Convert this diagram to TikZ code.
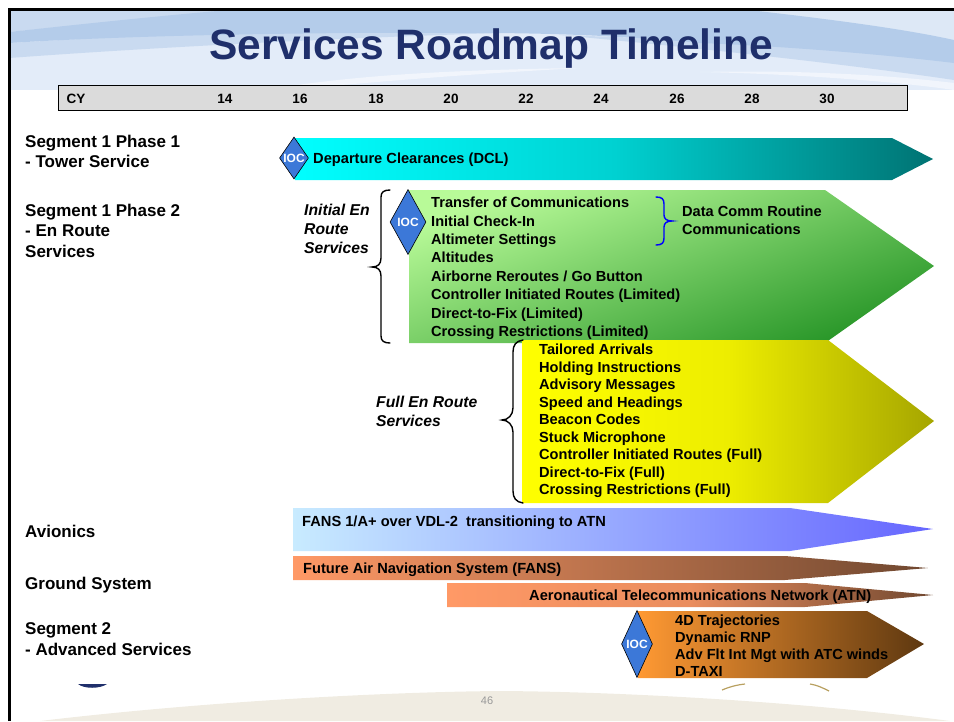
\documentclass[tikz,border=0pt]{standalone}
\usepackage{fontspec}
\setmainfont{Liberation Sans}
\newcommand{\pxfont}[1]{\fontsize{#1}{#1}\selectfont}
\newcommand{\listtext}[2]{\fontsize{#1}{#2}\selectfont}
\tikzset{
  x=1pt,y=-1pt,
  rowlabel/.style={anchor=north west,inner sep=0pt,align=left,font=\bfseries\listtext{17}{20.6},text=black},
  barlabel/.style={anchor=west,inner sep=0pt,font=\bfseries\pxfont{14.65},text=black},
  itemlist/.style={anchor=north west,inner sep=0pt,align=left,font=\bfseries\listtext{14.6}{#1},text=black},
  itemlist/.default=18.4,
  grouplabel/.style={anchor=north west,inner sep=0pt,align=left,font=\bfseries\itshape\listtext{15.7}{19},text=black},
  yearlabel/.style={anchor=center,inner sep=0pt,font=\bfseries\pxfont{13.5},text=black},
  iocmark/.style={diamond,aspect=#1,draw=black,line width=0.6pt,fill=iocblue,inner sep=0pt,text=white,font=\bfseries\pxfont{12}},
  bracket/.style={draw=black,line width=1.4pt,line cap=round},
}
\usetikzlibrary{shapes.geometric}
\definecolor{iocblue}{HTML}{3C78D8}
\definecolor{titleblue}{HTML}{1F2F6B}
\definecolor{waveLight}{HTML}{E3ECF9}
\definecolor{waveMid}{HTML}{C9DAF0}
\definecolor{waveDark}{HTML}{B4CCEA}
\definecolor{waveTop}{HTML}{DDE8F6}
\definecolor{waveStreak}{HTML}{F1F5FC}
\definecolor{sand}{HTML}{F0ECE2}
\definecolor{goldarc}{HTML}{B8A060}
\begin{document}
\begin{tikzpicture}
\useasboundingbox (0,0) rectangle (954,721);
% title background waves
\fill[waveLight] (9,9) -- (954,9) -- (954,90) -- (9,90) -- cycle;
\fill[waveTop] (740,9) -- (954,9) -- (954,40) -- cycle;
\fill[waveMid] (9,9) -- (240,9) -- (9,32) -- cycle;
\fill[waveMid] (9,43) -- (240,30) -- (500,33) .. controls (400,36) and (200,44) .. (9,58) -- cycle;
\fill[waveMid] (954,60) -- (954,80) .. controls (860,66) and (720,50) .. (560,35) -- (700,40) -- cycle;
\fill[waveDark] (9,32) .. controls (100,22) and (180,14) .. (240,9) -- (740,9) .. controls (820,18) and (900,28) .. (954,40) -- (954,63) .. controls (880,54) and (780,46) .. (700,43) .. controls (640,37) and (560,33) .. (480,33) .. controls (360,32) and (150,34) .. (9,43) -- cycle;
\fill[waveStreak] (290,86) .. controls (360,76) and (440,70) .. (580,68) .. controls (470,74) and (400,80) .. (330,86) -- cycle;
\fill[waveStreak] (700,72) .. controls (800,74) and (900,82) .. (954,90) -- (954,83) .. controls (880,74) and (790,70) .. (700,72) -- cycle;
% bottom band
\fill[sand] (40,721) .. controls (200,702) and (380,692) .. (500,691) .. controls (650,692) and (830,705) .. (950,721) -- cycle;
% seal fragments
\fill[titleblue] (78,684) .. controls (84,689) and (100,689) .. (107,684) -- cycle;
\draw[draw=goldarc,line width=1.2pt] (722,690) .. controls (729,687) and (736,685) .. (745,684);
\draw[draw=goldarc,line width=1.2pt] (810,684) .. controls (817,685) and (823,688) .. (829,691);
% frame
\draw[black,line width=3pt] (9,721) -- (9,9) -- (954,9);
% title
\node[anchor=center,inner sep=0pt,text=titleblue,font=\bfseries\pxfont{42.5}] (title) at (491,49) {Services Roadmap Timeline};
% year bar
\node[draw=black,line width=0.8pt,fill=gray!28,minimum width=849pt,minimum height=25pt,inner sep=0pt,anchor=north west] (yearbar) at (58,85) {};
\node[yearlabel] (cy) at (76,98.5) {CY};
\node[yearlabel] (y14) at (225,98.5) {14};
\node[yearlabel] (y16) at (300,98.5) {16};
\node[yearlabel] (y18) at (376,98.5) {18};
\node[yearlabel] (y20) at (451,98.5) {20};
\node[yearlabel] (y22) at (526,98.5) {22};
\node[yearlabel] (y24) at (601,98.5) {24};
\node[yearlabel] (y26) at (677,98.5) {26};
\node[yearlabel] (y28) at (752,98.5) {28};
\node[yearlabel] (y30) at (827,98.5) {30};
% row labels
\node[rowlabel] (seg1a) at (25,134.5) {Segment 1 Phase 1\\- Tower Service};
\node[rowlabel] (seg1b) at (25,203.5) {Segment 1 Phase 2\\- En Route\\Services};
\node[rowlabel] (avion) at (25,524.5) {Avionics};
\node[rowlabel] (ground) at (25,576.5) {Ground System};
\node[rowlabel] (seg2) at (25,622.5) {Segment 2\\- Advanced Services};
% bars
\shade[left color=cyan,right color=cyan!45!black,middle color=cyan!82!black] (295,138) -- (892,138) -- (933,159) -- (892,180) -- (295,180) -- cycle;
\definecolor{grA}{HTML}{B8FA98}\definecolor{grB}{HTML}{289628}
\shade[shading=axis,top color=grA,bottom color=grB,shading angle=20] (409,190) -- (825,190) -- (934,266) -- (825,343) -- (409,343) -- cycle;
\shade[left color=yellow,right color=yellow!65!black,middle color=yellow!93!black] (522,340) -- (828,340) -- (934,421) -- (828,503) -- (522,503) -- cycle;
\definecolor{avA}{HTML}{C8EBFF}\definecolor{avB}{HTML}{6666FF}
\shade[left color=avA,right color=avB] (293,508) -- (790,508) -- (933,529) -- (790,551) -- (293,551) -- cycle;
\definecolor{orA}{HTML}{FF9966}\definecolor{orB}{HTML}{704830}
\shade[left color=orA,right color=orB] (293,556) -- (785,556) -- (928,568) -- (785,580) -- (293,580) -- cycle;
\shade[left color=orA,right color=orB,middle color=orA!85!orB] (447,583) -- (805,583) -- (933,595) -- (805,607) -- (447,607) -- cycle;
\definecolor{brA}{HTML}{FF9933}\definecolor{brB}{HTML}{5E3810}
\shade[left color=brA,right color=brB] (638,611) -- (867,611) -- (924,644) -- (867,678) -- (638,678) -- cycle;
% IOC diamonds
\node[iocmark=0.66,minimum width=29pt,minimum height=42pt] (ioc1) at (294,158) {IOC};
\node[iocmark=0.55,minimum width=36pt,minimum height=65pt] (ioc2) at (408,222) {IOC};
\node[iocmark=0.46,minimum width=31pt,minimum height=67pt] (ioc3) at (637,644) {IOC};
% bar texts
\node[barlabel] (dcl) at (313,160) {Departure Clearances (DCL)};
\node[barlabel] (fansa) at (302,523) {FANS 1/A+ over VDL-2\ \ transitioning to ATN};
\node[barlabel] (fans) at (303,570) {Future Air Navigation System (FANS)};
\node[barlabel] (atn) at (529,597) {Aeronautical Telecommunications Network (ATN)};
\node[itemlist] (initial) at (431,197) {Transfer of Communications\\Initial Check-In\\Altimeter Settings\\Altitudes\\Airborne Reroutes / Go Button\\Controller Initiated Routes (Limited)\\Direct-to-Fix (Limited)\\Crossing Restrictions (Limited)};
\node[itemlist] (routine) at (682,205.5) {Data Comm Routine\\Communications};
\node[itemlist=17.5] (full) at (539,344) {Tailored Arrivals\\Holding Instructions\\Advisory Messages\\Speed and Headings\\Beacon Codes\\Stuck Microphone\\Controller Initiated Routes (Full)\\Direct-to-Fix (Full)\\Crossing Restrictions (Full)};
\node[itemlist=17] (adv) at (675,615) {4D Trajectories\\Dynamic RNP\\Adv Flt Int Mgt with ATC winds\\D-TAXI};
\node[grouplabel] (ginit) at (304,203.5) {Initial En\\Route\\Services};
\node[grouplabel] (gfull) at (376,395.5) {Full En Route\\Services};
% braces
\draw[bracket] (390,190) .. controls (384,190) and (381,192) .. (381,197) -- (381,258) .. controls (381,264) and (378,267) .. (372,267) .. controls (378,267) and (381,270) .. (381,276) -- (381,336) .. controls (381,341) and (384,343) .. (390,343);
\draw[bracket] (523,340) .. controls (516,341) and (513,345) .. (513,352) -- (513,408) .. controls (513,415) and (508,420) .. (502,420) .. controls (508,420) and (513,425) .. (513,432) -- (513,491) .. controls (513,498) and (516,502) .. (523,503);
\draw[bracket,draw=blue] (656,197) .. controls (662,197) and (664,199) .. (664,204) -- (664,215) .. controls (664,219) and (667,221) .. (672,221) .. controls (667,221) and (664,223) .. (664,227) -- (664,238) .. controls (664,243) and (662,245) .. (656,245);
% page number
\node[anchor=center,inner sep=0pt,text=gray!80,font=\pxfont{11}] (page) at (487,701) {46};
\end{tikzpicture}
\end{document}
